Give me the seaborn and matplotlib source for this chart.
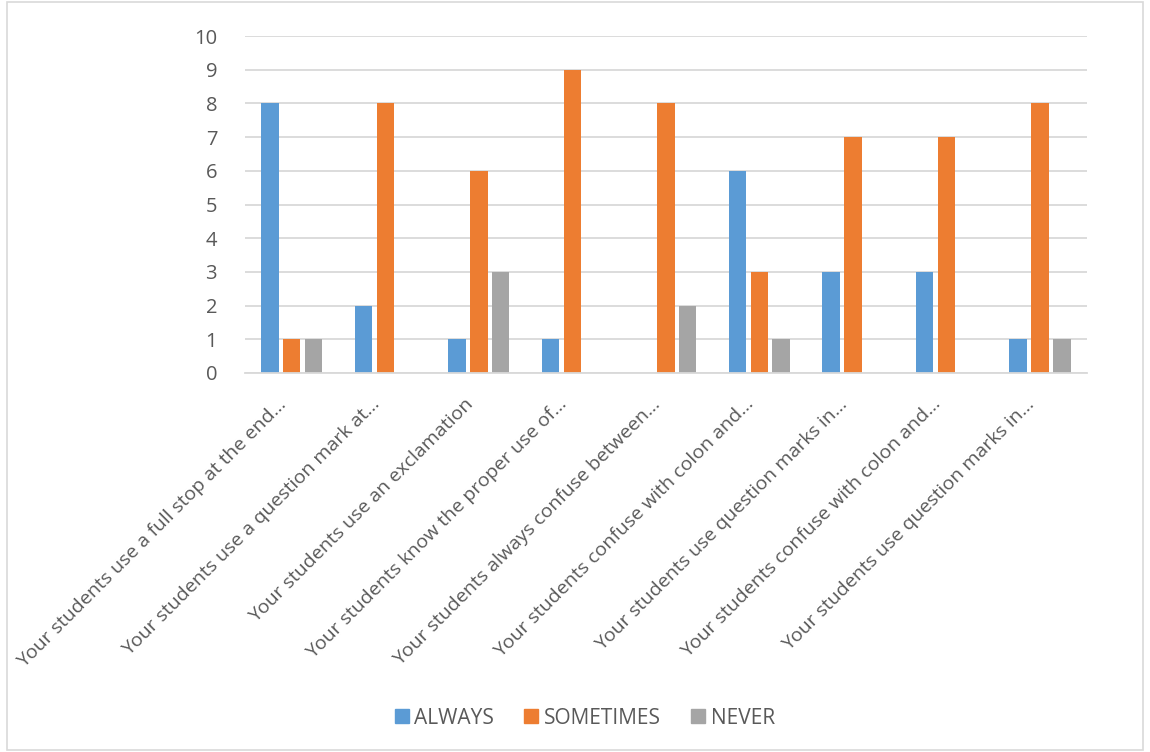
import numpy as np
import pandas as pd
import seaborn as sns
import matplotlib.pyplot as plt
from matplotlib.lines import Line2D
from matplotlib.patches import Rectangle
from matplotlib.transforms import ScaledTranslation

# data
questions = ["Q1", "Q2", "Q3", "Q4", "Q5", "Q6", "Q7", "Q8", "Q9"]
tick_labels = [
    "Your students use a full stop at the end\u2026",
    "Your students use a question mark at\u2026",
    "Your students use an exclamation",
    "Your students know the proper use of\u2026",
    "Your students always confuse between\u2026",
    "Your students confuse with colon and\u2026",
    "Your students use question marks in\u2026",
    "Your students confuse with colon and\u2026",
    "Your students use question marks in\u2026",
]
series = ["ALWAYS", "SOMETIMES", "NEVER"]
always = [8, 2, 1, 1, 0, 6, 3, 3, 1]
sometimes = [1, 8, 6, 9, 8, 3, 7, 7, 8]
never = [1, 0, 3, 0, 2, 1, 0, 0, 1]
colors = ["#5B9BD5", "#ED7D31", "#A5A5A5"]

df = pd.DataFrame({
    "question": questions * 3,
    "answer": np.repeat(series, len(questions)),
    "count": always + sometimes + never,
})

sns.set_theme(style="white")
plt.rcParams['font.family'] = ['Open Sans', 'DejaVu Sans']
text_color = "#595959"
grid_color = "#D9D9D9"

fig = plt.figure(figsize=(11.5, 7.52), dpi=100)
ax = fig.add_axes([0.213, 0.504, 0.732, 0.448])

sns.barplot(data=df, x="question", y="count", hue="answer",
            order=questions, hue_order=series, palette=colors,
            width=0.7, gap=0.2, saturation=1, linewidth=0,
            legend=False, ax=ax)

# axes styling
ax.set_ylim(0, 10)
ax.set_xlim(-0.5, len(questions) - 0.5)
ax.set_yticks(range(0, 11))
ax.yaxis.grid(True, color=grid_color, linewidth=1.3)
ax.set_axisbelow(True)
for side in ["top", "right", "left"]:
    ax.spines[side].set_visible(False)
ax.spines["bottom"].set_color(grid_color)
ax.spines["bottom"].set_linewidth(1.3)
ax.set_xlabel("")
ax.set_ylabel("")
ax.tick_params(axis="y", length=0, pad=20, labelsize=14.5, labelcolor=text_color)
ax.tick_params(axis="x", length=0, pad=16, labelsize=14, labelcolor=text_color)
ax.set_xticks(range(len(questions)))
ax.set_xticklabels(tick_labels, rotation=45, ha="right", rotation_mode="anchor")
shift = ScaledTranslation(-15 / 100, 0, fig.dpi_scale_trans)
for lbl in ax.get_xticklabels():
    lbl.set_transform(lbl.get_transform() + shift)

# legend at the bottom
handles = [Line2D([], [], marker="s", linestyle="", markersize=9.5, color=c) for c in colors]
fig.legend(handles, series, loc="center", bbox_to_anchor=(0.508, 0.045), ncol=3,
           frameon=False, fontsize=15, labelcolor=text_color, handletextpad=0.2,
           columnspacing=1.4, handlelength=0.8)

# outer chart border
fig.patches.append(Rectangle((0.006, 0.003), 0.988, 0.994, transform=fig.transFigure,
                             fill=False, edgecolor=grid_color, linewidth=1.2))

fig.savefig("out.png", dpi=100, facecolor="white")
plt.close("all")
